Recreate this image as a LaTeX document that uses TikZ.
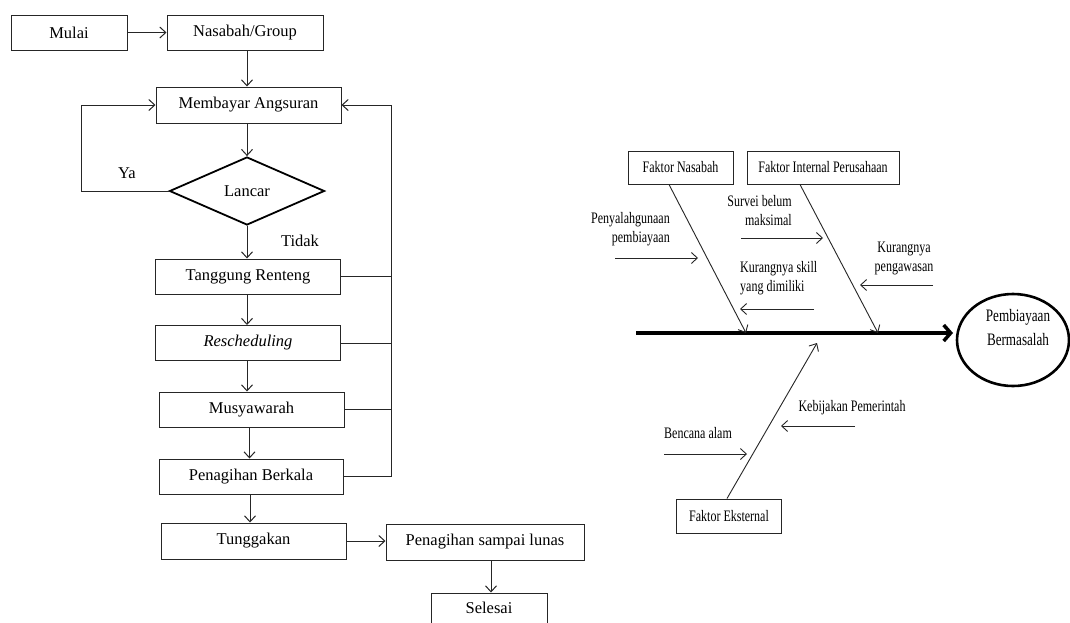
\documentclass[tikz,border=0pt]{standalone}
\usepackage{fontspec}
\setmainfont{Liberation Serif}
\newfontfamily\narrowfont[FakeStretch=0.75]{Liberation Serif}
\usetikzlibrary{arrows.meta,shapes.geometric}
\tikzset{
  box/.style={draw=black!85, line width=1pt, rectangle, inner sep=0pt, font=\fontsize{16.5}{19}\selectfont},
  arr/.style={draw=black!85, line width=1pt, -{Straight Barb[length=6pt,width=11pt]}},
  plain/.style={draw=black!85, line width=1pt},
  lbl/.style={inner sep=0pt, font=\fontsize{16.5}{19}\selectfont},
  fbox/.style={draw=black!85, line width=1pt, rectangle, inner sep=0pt, font=\narrowfont\fontsize{16}{19}\selectfont},
  ftxt/.style={inner sep=0pt, font=\narrowfont\fontsize{16}{19}\selectfont},
  farr/.style={draw=black!85, line width=0.9pt, -{Straight Barb[length=6pt,width=11pt]}},
  spine/.style={draw=black, line width=3.5pt, -{Straight Barb[length=7pt,width=16pt]}}
}
\begin{document}
\begin{tikzpicture}[x=1pt,y=-1pt]
\useasboundingbox (0,0) rectangle (1070,622);
\clip (0,0) rectangle (1070,622);
\fill[white] (0,0) rectangle (1070,622);

% ---------- flowchart ----------
\node[box, minimum width=116pt, minimum height=35pt] (mulai) at (69,32.5) {Mulai};
\node[box, minimum width=156pt, minimum height=35pt] (nasabah) at (245,32.5) {Nasabah/Group};
\node[box, minimum width=185pt, minimum height=36pt] (bayar) at (248.5,105) {Membayar Angsuran};
\node[draw=black, line width=1.8pt, diamond, inner sep=0pt, minimum width=155pt, minimum height=68pt,
      font=\fontsize{16.5}{19}\selectfont] (lancar) at (247,191) {Lancar};
\node[box, minimum width=185pt, minimum height=35pt] (tanggung) at (248,276.5) {Tanggung Renteng};
\node[box, minimum width=185pt, minimum height=35pt] (resched) at (248,343) {\itshape Rescheduling};
\node[box, minimum width=185pt, minimum height=35pt] (musy) at (251.5,409.5) {Musyawarah};
\node[box, minimum width=184pt, minimum height=35pt] (penb) at (251,476.5) {Penagihan Berkala};
\node[box, minimum width=185pt, minimum height=36pt] (tunggak) at (253.5,541) {Tunggakan};
\node[box, minimum width=198pt, minimum height=36pt] (lunas) at (485,542) {Penagihan sampai lunas};
\node[box, minimum width=116pt, minimum height=34pt] (selesai) at (489,610) {\raisebox{4pt}{Selesai}};

\node[lbl] (ya) at (127,173) {Ya};
\node[lbl] (tidak) at (300,241) {Tidak};

\coordinate (yaL) at (81,191);
\coordinate (fbR) at (391,105);

\draw[arr] (mulai.east) -- (nasabah.west);
\draw[arr] ([xshift=2pt]nasabah.south) -- ([xshift=2pt]nasabah.south |- bayar.north);
\draw[arr] ([xshift=-1.5pt]bayar.south) -- ([xshift=-1.5pt]bayar.south |- lancar.north);
\draw[arr] (lancar.west) -- (yaL) |- (bayar.west);
\draw[arr] (lancar.south) -- (lancar.south |- tanggung.north);
\draw[arr] ([xshift=-1pt]tanggung.south) -- ([xshift=-1pt]tanggung.south |- resched.north);
\draw[arr] ([xshift=-1pt]resched.south) -- ([xshift=-1pt]resched.south |- musy.north);
\draw[arr] ([xshift=-2pt]musy.south) -- ([xshift=-2pt]musy.south |- penb.north);
\draw[arr] ([xshift=-1pt]penb.south) -- ([xshift=-1pt]penb.south |- tunggak.north);
\draw[arr] (tunggak.east) -- (tunggak.east -| lunas.west);
\draw[arr] ([xshift=6pt]lunas.south) -- ([xshift=6pt]lunas.south |- selesai.north);

\draw[plain] (tanggung.east) -- (tanggung.east -| fbR);
\draw[plain] (resched.east) -- (resched.east -| fbR);
\draw[plain] (musy.east) -- (musy.east -| fbR);
\draw[arr] (penb.east) -| (fbR) -- (bayar.east);

% ---------- fishbone ----------
\node[fbox, minimum width=105pt, minimum height=33pt] (fn) at (680.5,167.5) {Faktor Nasabah};
\node[fbox, minimum width=152pt, minimum height=33pt] (fi) at (823,167.5) {Faktor Internal Perusahaan};
\node[fbox, minimum width=105pt, minimum height=34pt] (fe) at (729,516) {Faktor Eksternal};
\node[draw=black, line width=2.6pt, ellipse, inner sep=0pt, minimum width=112pt, minimum height=92pt] (eff) at (1013,340) {};
\node[inner sep=0pt, align=center, font=\narrowfont\fontsize{17.5}{24}\selectfont] (efftxt) at (1018,328) {Pembiayaan\\Bermasalah};

\coordinate (sp0) at (636,333);
\coordinate (spE) at (953,333);
\draw[spine] (sp0) -- (spE);

\coordinate (b1) at (746,333);
\coordinate (b2) at (878,333);
\coordinate (b3) at (817,343);
\draw[farr] ([xshift=-11.5pt]fn.south) -- (b1);
\draw[farr] ([xshift=-23pt]fi.south) -- (b2);
\draw[farr] ([xshift=-2pt]fe.north) -- (b3);

\node[ftxt, align=right, anchor=east] (t1) at (670,229) {Penyalahgunaan\\pembiayaan};
\coordinate (a1s) at (615,258); \coordinate (a1e) at (698,258);
\draw[farr] (a1s) -- (a1e);

\node[ftxt, align=right, anchor=east] (t2) at (792,211) {Survei belum\\maksimal};
\coordinate (a2s) at (741,238); \coordinate (a2e) at (823,238);
\draw[farr] (a2s) -- (a2e);

\node[ftxt, align=left, anchor=west] (t3) at (740,278) {Kurangnya skill\\yang dimiliki};
\coordinate (a3s) at (814,309); \coordinate (a3e) at (740,309);
\draw[farr] (a3s) -- (a3e);

\node[ftxt, align=center] (t4) at (904,258) {Kurangnya\\pengawasan};
\coordinate (a4s) at (933,285); \coordinate (a4e) at (860,285);
\draw[farr] (a4s) -- (a4e);

\node[ftxt] (t5) at (852,408) {Kebijakan Pemerintah};
\coordinate (a5s) at (855,426); \coordinate (a5e) at (781,426);
\draw[farr] (a5s) -- (a5e);

\node[ftxt] (t6) at (698,433) {Bencana alam};
\coordinate (a6s) at (664,454); \coordinate (a6e) at (747,454);
\draw[farr] (a6s) -- (a6e);
\end{tikzpicture}
\end{document}
